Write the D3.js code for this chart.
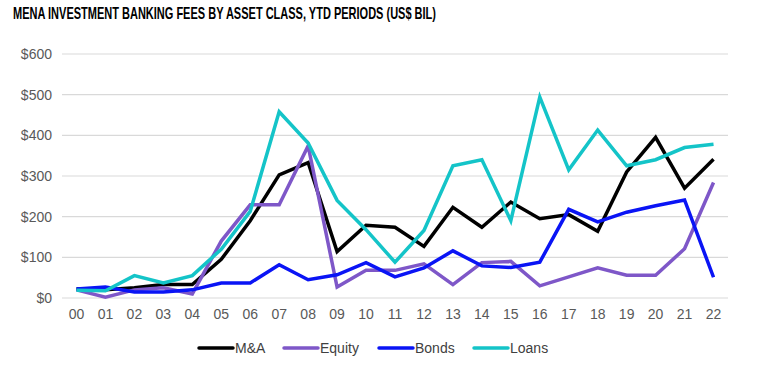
<!DOCTYPE html>
<html>
<head>
<meta charset="utf-8">
<script src="https://cdn.jsdelivr.net/npm/d3@7"></script>
<style>
  body { margin: 0; background: #fff; }
  svg { display: block; }
</style>
</head>
<body>
<svg id="chart" width="782" height="367"></svg>
<script>
const years = ["00","01","02","03","04","05","06","07","08","09","10","11","12","13","14","15","16","17","18","19","20","21","22"];
const mna    = [22, 20, 25, 33, 33, 95, 190, 303, 333, 114, 179, 174, 127, 223, 174, 236, 195, 205, 164, 310, 395, 270, 341];
const equity = [20, 2, 20, 25, 10, 140, 229, 229, 374, 27, 68, 68, 84, 33, 87, 90, 30, 52, 74, 56, 56, 121, 284];
const bonds  = [22, 27, 15, 15, 20, 37, 37, 82, 45, 57, 87, 52, 74, 116, 79, 75, 88, 218, 187, 211, 227, 241, 51];
const loans  = [19, 18, 55, 37, 55, 120, 213, 458, 381, 240, 168, 88, 166, 325, 340, 190, 494, 315, 413, 325, 340, 370, 378];
const yTicks = [0, 100, 200, 300, 400, 500, 600];

const series = [
    {name: "M&A", values: mna, color: "#000000"},
    {name: "Equity", values: equity, color: "#7e57c8"},
    {name: "Bonds", values: bonds, color: "#0a14f5"},
    {name: "Loans", values: loans, color: "#14c4c8"}
];

const svg = d3.select("#chart");
const margin = {top: 54, right: 54, bottom: 69, left: 62};
const width = +svg.attr("width") - margin.left - margin.right;
const height = +svg.attr("height") - margin.top - margin.bottom;

// title is a narrow bold face in the original, squeeze to its width
svg.append("text")
    .attr("x", 13)
    .attr("y", 19)
    .attr("font-family", "'Liberation Sans Narrow', 'Arial Narrow', 'Liberation Sans', sans-serif")
    .attr("font-weight", "bold")
    .attr("font-size", 17)
    .attr("fill", "#000")
    .attr("textLength", 423)
    .attr("lengthAdjust", "spacingAndGlyphs")
    .text("MENA INVESTMENT BANKING FEES BY ASSET CLASS, YTD PERIODS (US$ BIL)");

const g = svg.append("g").attr("transform", "translate(" + margin.left + "," + margin.top + ")");

const x = d3.scaleBand().domain(years).range([0, width]);
const y = d3.scaleLinear().domain([0, 600]).range([height, 0]);

// gridlines
g.append("g")
    .selectAll("line")
    .data(yTicks)
    .join("line")
    .attr("x1", 0)
    .attr("x2", width)
    .attr("y1", d => y(d))
    .attr("y2", d => y(d))
    .attr("stroke", "#d9d9d9")
    .attr("stroke-width", 1.2);

const yAxis = g.append("g")
    .call(d3.axisLeft(y).tickValues(yTicks).tickSize(0).tickPadding(10).tickFormat(d => "$" + d));
yAxis.select(".domain").remove();
yAxis.selectAll("text")
    .attr("font-family", "'Liberation Sans', Arial, sans-serif")
    .attr("font-size", 14)
    .attr("fill", "#595959");

const xAxis = g.append("g")
    .attr("transform", "translate(0," + height + ")")
    .call(d3.axisBottom(x).tickSize(0).tickPadding(11));
xAxis.select(".domain").remove();
xAxis.selectAll("text")
    .attr("font-family", "'Liberation Sans', Arial, sans-serif")
    .attr("font-size", 14)
    .attr("fill", "#595959");

const line = d3.line()
    .x((d, i) => x(years[i]) + x.bandwidth() / 2)
    .y(d => y(d));

g.selectAll(".series")
    .data(series)
    .join("path")
    .attr("class", "series")
    .attr("fill", "none")
    .attr("stroke", d => d.color)
    .attr("stroke-width", 3.5)
    .attr("stroke-linejoin", "miter")
    .attr("d", d => line(d.values));

// legend
const legendX = [199, 284, 379, 474];
const legend = svg.append("g").attr("transform", "translate(0,348)");
const items = legend.selectAll("g")
    .data(series)
    .join("g")
    .attr("transform", (d, i) => "translate(" + legendX[i] + ",0)");
items.append("line")
    .attr("x1", 0)
    .attr("x2", 34)
    .attr("stroke", d => d.color)
    .attr("stroke-width", 3.5)
    .attr("stroke-linecap", "round");
items.append("text")
    .attr("x", 36)
    .attr("dy", "0.35em")
    .attr("font-family", "'Liberation Sans', Arial, sans-serif")
    .attr("font-size", 14)
    .attr("fill", "#404040")
    .text(d => d.name);
</script>
</body>
</html>
